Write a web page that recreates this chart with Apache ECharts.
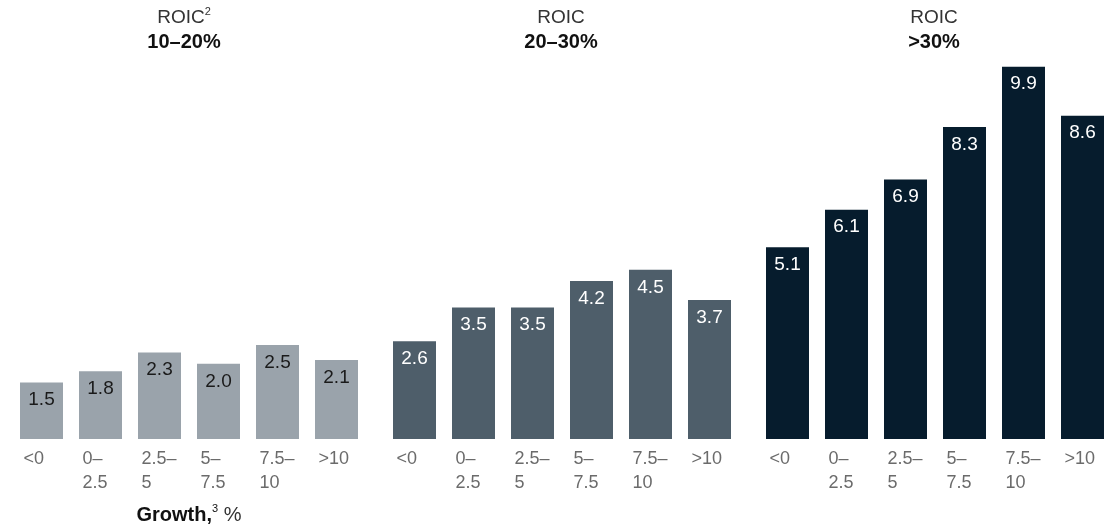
<!DOCTYPE html>
<html>
<head>
<meta charset="utf-8">
<script src="https://cdn.jsdelivr.net/npm/echarts@6/dist/echarts.min.js"></script>
<style>
html,body{margin:0;padding:0;background:#fff;}
#chart{width:1113px;height:529px;}
</style>
</head>
<body>
<div id="chart"></div>
<script>
const categories = ['<0', '0–\n2.5', '2.5–\n5', '5–\n7.5', '7.5–\n10', '>10'];
const roic10to20 = [1.5, 1.8, 2.3, 2.0, 2.5, 2.1];
const roic20to30 = [2.6, 3.5, 3.5, 4.2, 4.5, 3.7];
const roicOver30 = [5.1, 6.1, 6.9, 8.3, 9.9, 8.6];
const groupTitles = [
  '{a|ROIC}{s|2}\n{b|10–20%}',
  '{a|ROIC}\n{b|20–30%}',
  '{a|ROIC}\n{b|>30%}'
];
const axisName = '{b|Growth,}{s|3}{r| %}';

const FONT = "'Liberation Sans', Arial, sans-serif";
const seriesData = [roic10to20, roic20to30, roicOver30];
const barColors = ['#9aa3ab', '#4e5e6a', '#061c2d'];
const labelColors = ['#1a1a1a', '#ffffff', '#ffffff'];
const gridLefts = [12, 385, 758];
const titleShift = [-5, -1, -1];
const GRID_W = 354;

const chart = echarts.init(document.getElementById('chart'));

const grids = gridLefts.map(l => ({
  left: l, width: GRID_W, top: 63, bottom: 90,
  containLabel: false, outerBoundsMode: 'none'
}));

const xAxes = gridLefts.map((l, i) => ({
  type: 'category',
  gridIndex: i,
  data: categories,
  axisLine: { show: false },
  axisTick: { show: false },
  axisLabel: {
    interval: 0,
    margin: 8,
    align: 'center',
    formatter: v => v.split('\n').map(s => '{a|' + s + '}').join('\n'),
    rich: {
      a: { width: 36, align: 'left', fontSize: 18, lineHeight: 24, color: '#6b6b6b', fontFamily: FONT }
    }
  },
  name: i === 0 ? axisName : '',
  nameLocation: 'middle',
  nameGap: 64,
  nameTextStyle: {
    rich: {
      b: { fontSize: 20, fontWeight: 'bold', color: '#111', fontFamily: FONT, lineHeight: 24 },
      s: { fontSize: 11, fontWeight: 'normal', color: '#111', fontFamily: FONT, lineHeight: 20, verticalAlign: 'top' },
      r: { fontSize: 20, fontWeight: 'normal', color: '#333', fontFamily: FONT, lineHeight: 24 }
    }
  }
}));

const yAxes = gridLefts.map((l, i) => ({
  type: 'value', gridIndex: i, min: 0, max: 10, show: false,
  splitLine: { show: false }
}));

const series = seriesData.map((d, i) => ({
  type: 'bar',
  xAxisIndex: i,
  yAxisIndex: i,
  data: d,
  barWidth: 43,
  itemStyle: { color: barColors[i] },
  label: {
    show: true,
    position: 'insideTop',
    distance: 8,
    fontSize: 19,
    fontFamily: FONT,
    color: labelColors[i],
    formatter: p => p.value.toFixed(1)
  },
  silent: true,
  animation: false
}));

const titles = groupTitles.map((t, i) => ({
  text: t,
  left: gridLefts[i] + GRID_W / 2 + titleShift[i],
  top: 6,
  textAlign: 'center',
  padding: 0,
  textStyle: {
    fontWeight: 'normal',
    rich: {
      a: { fontSize: 19, fontWeight: 'normal', color: '#333', fontFamily: FONT, lineHeight: 24 },
      s: { fontSize: 11, fontWeight: 'normal', color: '#333', fontFamily: FONT, lineHeight: 20, verticalAlign: 'top' },
      b: { fontSize: 20, fontWeight: 'bold', color: '#111', fontFamily: FONT, lineHeight: 24 }
    }
  }
}));

chart.setOption({
  animation: false,
  backgroundColor: '#ffffff',
  title: titles,
  grid: grids,
  xAxis: xAxes,
  yAxis: yAxes,
  series: series
});
</script>
</body>
</html>
